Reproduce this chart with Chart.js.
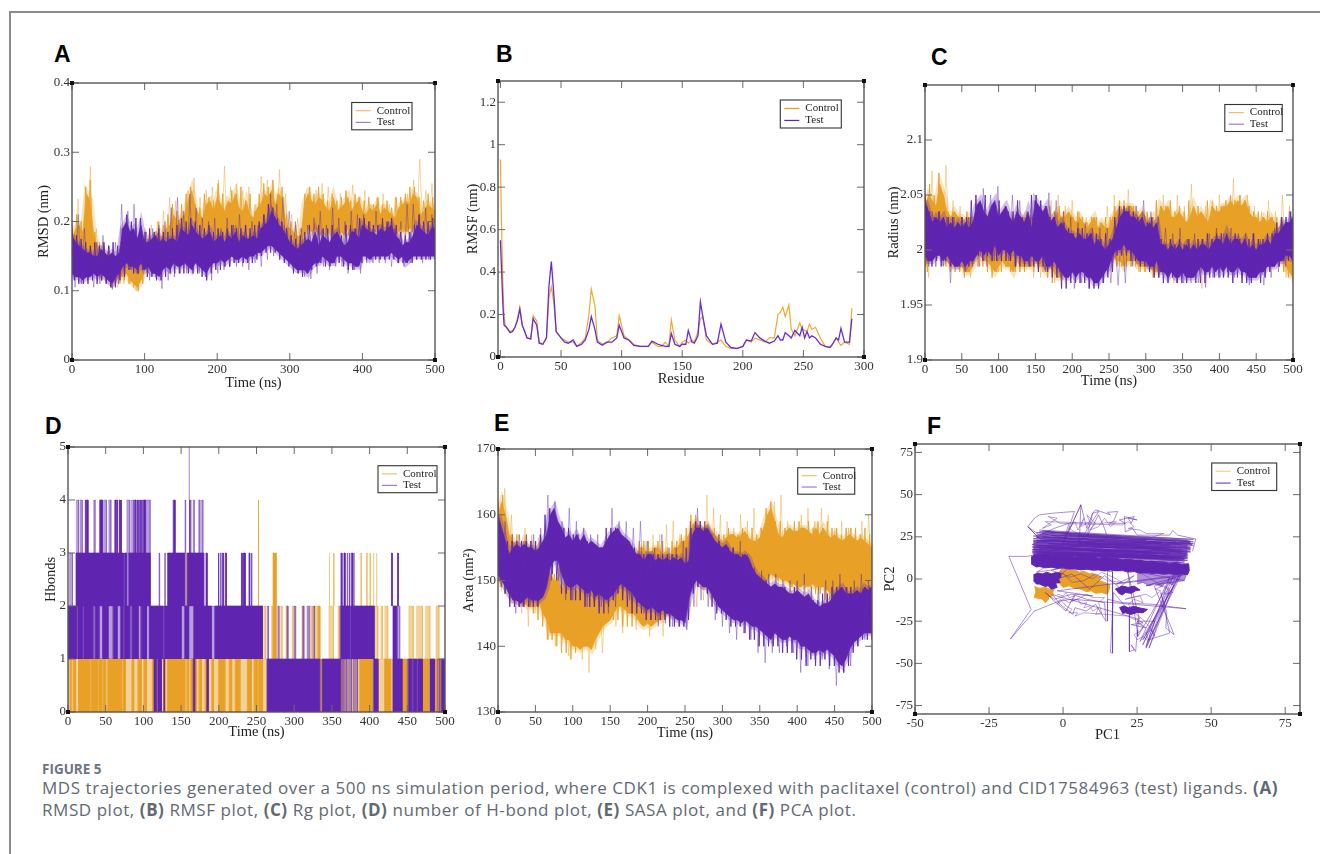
<!DOCTYPE html>
<html><head><meta charset="utf-8">
<script src="https://cdn.jsdelivr.net/npm/chart.js@4"></script>
<style>
html,body{margin:0;padding:0;background:#fff;width:1320px;height:854px;overflow:hidden}
#page{position:relative;width:1320px;height:854px}
canvas{position:absolute;filter:blur(.45px)}
.rule{position:absolute;background:#8b8b95}
.letter{position:absolute;font:bold 23px "Liberation Sans",sans-serif;color:#000;line-height:24px}
.cap{position:absolute;left:42px;white-space:nowrap;font-family:"Open Sans","Noto Sans",sans-serif;color:#5f6973}
.cap b{font-weight:700}
</style></head><body><div id="page">
<div class="rule" style="left:9px;top:11px;width:1311px;height:1.5px"></div>
<div class="rule" style="left:9px;top:11px;width:1.5px;height:843px"></div>
<div class="letter" style="left:54px;top:42px">A</div>
<div class="letter" style="left:496px;top:42px">B</div>
<div class="letter" style="left:931px;top:45px">C</div>
<div class="letter" style="left:45px;top:414px">D</div>
<div class="letter" style="left:494px;top:411px">E</div>
<div class="letter" style="left:927px;top:414px">F</div>
<div class="cap" style="top:760px;font-size:13.5px;font-weight:700;color:#6b7580">FIGURE 5</div>
<div class="cap" id="cap1" style="top:776px;font-size:17px">MDS trajectories generated over a 500 ns simulation period, where CDK1 is complexed with paclitaxel (control) and CID17584963 (test) ligands. <b>(A)</b></div>
<div class="cap" id="cap2" style="top:798px;font-size:17px">RMSD plot, <b>(B)</b> RMSF plot, <b>(C)</b> Rg plot, <b>(D)</b> number of H-bond plot, <b>(E)</b> SASA plot, and <b>(F)</b> PCA plot.</div>
</div>
<script>
const seriesNames=["Control","Test"];
const ticksA_x=[0,100,200,300,400,500],ticksA_y=[0,.1,.2,.3,.4];
const ticksB_x=[0,50,100,150,200,250,300],ticksB_y=[0,.2,.4,.6,.8,1,1.2];
const ticksC_x=[0,50,100,150,200,250,300,350,400,450,500],ticksC_y=[1.9,1.95,2,2.05,2.1];
const ticksD_x=ticksC_x,ticksD_y=[0,1,2,3,4,5];
const ticksE_x=ticksC_x,ticksE_y=[130,140,150,160,170];
const ticksF_x=[-50,-25,0,25,50,75],ticksF_y=[-75,-50,-25,0,25,50,75];
/* ---------- A: RMSD, band edges every 5 ns, traces alternate top/bottom ---------- */
const rmsdControlHi=[.175,.19,.195,.185,.24,.23,.18,.165,.16,.155,.15,.145,.14,.135,.14,.15,.155,.145,.15,.16,.165,.175,.17,.18,.185,.175,.19,.195,.21,.2,.205,.21,.23,.245,.22,.21,.205,.225,.23,.215,.235,.225,.215,.23,.225,.24,.22,.215,.23,.21,.205,.22,.225,.24,.235,.245,.225,.24,.23,.195,.19,.185,.18,.175,.225,.24,.23,.225,.235,.23,.22,.215,.235,.215,.22,.225,.235,.215,.225,.23,.215,.21,.22,.215,.225,.21,.22,.215,.21,.205,.22,.225,.23,.225,.24,.235,.21,.215,.225,.22,.215];
const rmsdControlLo=[.125,.13,.135,.135,.15,.16,.13,.125,.12,.125,.115,.11,.115,.12,.12,.125,.115,.11,.105,.115,.13,.135,.14,.14,.15,.15,.16,.16,.16,.165,.16,.165,.17,.165,.16,.165,.165,.16,.165,.17,.17,.165,.17,.165,.17,.165,.17,.165,.17,.165,.165,.17,.17,.175,.17,.175,.17,.17,.165,.16,.16,.155,.155,.15,.18,.19,.185,.19,.18,.185,.18,.185,.18,.175,.185,.18,.19,.18,.185,.18,.19,.185,.18,.185,.19,.18,.185,.185,.18,.18,.185,.19,.185,.19,.19,.195,.185,.19,.185,.185,.18];
const rmsdControlTrace=[.19,.12,.233,.11,.21,.13,.28,.125,.19,.12,.17,.115,.165,.105,.15,.105,.16,.11,.165,.11,.155,.1,.17,.115,.19,.125,.195,.13,.2,.13,.215,.135,.235,.14,.23,.15,.215,.145,.245,.15,.263,.16,.235,.15,.245,.16,.25,.165,.26,.165,.28,.17,.25,.17,.255,.165,.245,.165,.25,.155,.225,.16,.265,.16,.26,.165,.24,.17,.275,.17,.24,.165,.21,.16,.205,.155,.195,.15,.25,.18,.245,.185,.255,.18,.25,.175,.225,.175,.24,.18,.235,.175,.253,.18,.235,.175,.245,.18,.225,.185,.235,.18,.24,.18,.225,.18,.235,.175,.23,.175,.24,.18,.26,.185,.29,.185,.245,.18,.255,.175];
const rmsdControlJag=[.2,.12,.21,.125,.2,.13,.25,.14,.26,.15,.185,.125,.17,.115,.165,.12,.155,.105,.15,.11,.145,.11,.15,.115,.165,.11,.15,.105,.16,.1,.165,.11,.175,.125,.185,.13,.18,.135,.2,.145,.195,.15,.21,.15,.225,.155,.215,.155,.225,.155,.24,.16,.25,.16,.225,.155,.22,.16,.24,.16,.235,.165,.23,.165,.255,.165,.24,.165,.225,.17,.245,.165,.24,.165,.25,.165,.23,.165,.24,.165,.215,.16,.24,.165,.255,.17,.25,.17,.26,.17,.24,.165,.25,.165,.21,.155,.2,.155,.195,.15,.19,.15,.24,.18,.25,.185,.24,.185,.25,.18,.24,.18,.23,.18,.24,.175,.23,.18,.235,.18,.245,.18,.23,.18,.24,.175,.235,.18,.23,.18,.235,.18,.225,.185,.235,.185,.225,.18,.23,.18,.22,.18,.235,.185,.235,.185,.24,.185,.25,.185,.25,.19,.235,.185,.23,.18,.24,.18,.235,.18];
const rmsdTestHi=[.18,.17,.165,.16,.155,.155,.15,.15,.16,.155,.15,.155,.15,.155,.19,.2,.185,.19,.175,.195,.17,.17,.175,.18,.17,.175,.17,.175,.175,.17,.19,.185,.18,.195,.185,.18,.175,.18,.185,.17,.175,.18,.17,.18,.175,.185,.17,.18,.175,.175,.18,.175,.19,.195,.2,.215,.205,.195,.19,.18,.17,.165,.16,.165,.17,.175,.17,.185,.165,.18,.175,.17,.18,.185,.175,.165,.17,.185,.185,.175,.195,.19,.185,.185,.18,.19,.185,.19,.195,.18,.175,.165,.17,.17,.18,.195,.19,.185,.18,.19,.19];
const rmsdTestLo=[.125,.12,.12,.115,.12,.12,.125,.12,.125,.12,.115,.11,.12,.125,.135,.14,.135,.135,.13,.14,.13,.135,.125,.125,.12,.13,.135,.13,.14,.135,.135,.14,.135,.13,.14,.135,.13,.125,.135,.14,.14,.145,.14,.145,.15,.145,.145,.15,.145,.15,.15,.155,.155,.16,.165,.165,.16,.155,.15,.145,.14,.135,.13,.13,.13,.125,.135,.14,.14,.15,.145,.14,.14,.15,.15,.145,.14,.14,.135,.135,.15,.15,.145,.15,.15,.15,.15,.15,.155,.15,.145,.15,.14,.145,.15,.15,.15,.15,.15,.15,.15];
const rmsdTestTrace=[.195,.105,.21,.11,.19,.115,.165,.105,.17,.11,.18,.11,.165,.102,.17,.11,.225,.125,.215,.13,.225,.125,.19,.13,.185,.115,.19,.12,.195,.103,.2,.115,.22,.12,.235,.125,.215,.125,.24,.13,.22,.125,.205,.12,.2,.115,.205,.125,.19,.13,.205,.135,.195,.135,.21,.135,.195,.13,.2,.14,.195,.135,.21,.145,.24,.15,.225,.155,.235,.145,.215,.135,.2,.125,.19,.12,.195,.117,.205,.125,.215,.135,.195,.13,.22,.135,.205,.135,.2,.125,.215,.13,.21,.125,.21,.14,.2,.14,.215,.14,.195,.14,.2,.135,.19,.14,.2,.135,.225,.14,.225,.145,.21,.14,.22,.145,.21,.15];
const rmsdTestJag=[.19,.115,.18,.11,.175,.11,.17,.11,.165,.115,.17,.11,.165,.115,.17,.11,.165,.105,.17,.105,.165,.115,.19,.12,.21,.13,.2,.125,.205,.125,.205,.13,.185,.12,.19,.12,.185,.115,.19,.115,.185,.12,.185,.125,.19,.125,.195,.125,.205,.125,.2,.125,.205,.125,.2,.125,.195,.12,.19,.115,.195,.125,.185,.13,.19,.13,.185,.135,.19,.135,.195,.14,.19,.14,.19,.14,.195,.14,.19,.14,.195,.145,.2,.15,.21,.155,.225,.155,.22,.155,.205,.145,.2,.14,.19,.135,.18,.125,.175,.125,.18,.12,.185,.125,.195,.13,.18,.135,.195,.14,.19,.135,.19,.135,.195,.14,.185,.14,.18,.135,.195,.13,.195,.13,.19,.14,.205,.14,.205,.145,.2,.145,.195,.145,.195,.145,.205,.145,.2,.145,.205,.145,.195,.14,.185,.14,.18,.14,.185,.14,.195,.145,.21,.145,.2,.145,.2,.145,.205,.145];
/* ---------- B: RMSF per residue ---------- */
const residues=[0,1,2,3,4,5,8,10,12,14,16,18,20,22,25,27,30,32,35,38,40,42,44,46,50,53,56,60,63,67,70,73,75,78,80,84,88,92,96,98,102,106,110,115,120,122,125,130,133,136,139,141,144,148,150,153,155,158,160,163,165,167,170,175,179,182,186,190,195,200,203,207,210,214,218,222,226,229,231,233,235,238,240,243,247,249,251,253,255,257,260,264,268,272,274,277,279,281,284,288,290];
const rmsfControl=[.93,.6,.35,.19,.15,.14,.12,.125,.14,.18,.235,.15,.12,.09,.085,.195,.17,.07,.06,.09,.28,.33,.26,.12,.09,.08,.07,.07,.05,.07,.09,.2,.32,.24,.08,.06,.07,.09,.1,.195,.1,.08,.06,.05,.05,.05,.07,.05,.05,.07,.05,.175,.08,.05,.07,.08,.065,.08,.07,.12,.18,.19,.08,.06,.07,.08,.05,.04,.04,.05,.08,.07,.09,.08,.07,.09,.09,.2,.21,.235,.19,.245,.13,.1,.16,.13,.125,.12,.155,.13,.14,.09,.05,.045,.06,.09,.07,.055,.07,.06,.23];
const rmsfTest=[.55,.4,.25,.15,.145,.14,.115,.12,.14,.17,.225,.15,.12,.09,.085,.18,.15,.065,.06,.09,.33,.45,.3,.12,.09,.07,.065,.08,.05,.06,.08,.13,.19,.13,.07,.055,.07,.07,.09,.15,.09,.08,.055,.05,.05,.05,.075,.06,.055,.05,.05,.11,.06,.05,.06,.06,.125,.07,.065,.1,.26,.19,.1,.06,.065,.155,.07,.045,.04,.05,.08,.075,.115,.09,.075,.065,.075,.1,.08,.08,.115,.1,.09,.125,.1,.14,.09,.12,.09,.1,.09,.06,.05,.045,.06,.09,.08,.135,.07,.07,.18];
/* ---------- C: Radius of gyration ---------- */
const rgControlHi=[2.04,2.05,2.045,2.04,2.06,2.05,2.035,2.03,2.035,2.03,2.03,2.025,2.03,2.025,2.03,2.03,2.03,2.025,2.03,2.025,2.025,2.03,2.025,2.03,2.025,2.03,2.025,2.03,2.025,2.03,2.03,2.025,2.03,2.03,2.025,2.03,2.035,2.03,2.03,2.035,2.03,2.025,2.03,2.025,2.02,2.025,2.03,2.02,2.025,2.02,2.02,2.03,2.035,2.04,2.035,2.04,2.04,2.035,2.03,2.035,2.03,2.025,2.03,2.02,2.04,2.035,2.04,2.03,2.03,2.035,2.03,2.025,2.03,2.04,2.03,2.035,2.03,2.025,2.04,2.035,2.035,2.04,2.04,2.045,2.04,2.045,2.04,2.045,2.035,2.03,2.03,2.025,2.03,2.025,2.03,2.025,2.02,2.025,2.02,2.02,2.015];
const rgControlLo=[1.985,1.99,1.995,1.995,2,1.995,1.99,1.985,1.99,1.985,1.985,1.98,1.98,1.985,1.995,1.995,1.99,1.99,1.985,1.98,1.985,1.99,1.985,1.985,1.98,1.99,1.985,1.985,1.985,1.985,1.99,1.985,1.985,1.98,1.985,1.98,1.975,1.975,1.985,1.985,1.985,1.99,1.985,1.99,1.985,1.99,1.985,1.99,1.985,1.99,1.995,1.995,1.99,1.99,1.985,1.99,1.99,1.99,1.985,1.985,1.985,1.985,1.98,1.98,1.985,1.99,1.985,1.99,1.985,1.99,1.985,1.99,1.985,1.985,1.99,1.985,1.99,1.99,1.985,1.99,1.995,1.99,1.995,2,1.995,1.99,1.995,1.99,1.99,1.985,1.985,1.99,1.985,1.99,1.99,1.995,1.99,1.99,1.985,1.98,1.975];
const rgControlTrace=[2.05,1.975,2.072,1.985,2.06,1.99,2.077,1.99,2.045,1.985,2.04,1.98,2.035,1.975,2.03,1.985,2.03,1.995,2.035,1.98,2.02,1.98,2.03,1.985,2.025,1.98,2.035,1.98,2.03,1.985,2.025,1.975,2.03,1.975,2.03,1.975,2.045,1.97,2.05,1.975,2.04,1.98,2.045,1.985,2.035,1.98,2.03,1.985,2.03,1.985,2.025,1.99,2.04,1.98,2.05,1.985,2.04,1.98,2.055,1.985,2.04,1.98,2.035,1.98,2.03,1.975,2.045,1.975,2.05,1.975,2.04,1.97,2.05,1.975,2.04,1.97,2.06,1.975,2.035,1.965,2.04,1.98,2.045,1.98,2.05,1.985,2.04,1.985,2.065,1.985,2.05,1.98,2.05,1.98,2.04,1.98,2.035,1.975,2.045,1.985,2.035,1.985,2.05,1.975,2.04,1.97];
const rgControlJag=[2.05,1.98,2.06,1.99,2.05,1.99,2.07,1.99,2.05,1.985,2.035,1.98,2.035,1.98,2.03,1.98,2.03,1.975,2.035,1.98,2.03,1.99,2.03,1.985,2.03,1.985,2.025,1.98,2.035,1.975,2.03,1.98,2.03,1.98,2.035,1.985,2.03,1.98,2.03,1.98,2.035,1.98,2.03,1.98,2.035,1.985,2.03,1.98,2.035,1.98,2.035,1.98,2.03,1.975,2.04,1.97,2.035,1.975,2.04,1.98,2.035,1.98,2.03,1.98,2.03,1.98,2.035,1.985,2.03,1.985,2.025,1.985,2.03,1.985,2.03,1.985,2.025,1.985,2.03,1.985,2.03,1.99,2.04,1.985,2.045,1.985,2.045,1.985,2.04,1.985,2.04,1.985,2.035,1.98,2.035,1.98,2.035,1.98,2.03,1.975,2.045,1.975,2.04,1.98,2.04,1.985,2.045,1.985,2.035,1.985,2.04,1.985,2.035,1.985,2.045,1.985,2.035,1.985,2.04,1.985,2.03,1.99,2.045,1.99,2.04,1.99,2.04,1.99,2.04,1.99,2.045,1.995,2.05,1.99,2.045,1.99,2.05,1.99,2.045,1.99,2.04,1.985,2.035,1.985,2.035,1.985,2.03,1.99,2.035,1.985,2.03,1.985,2.03,1.985,2.03,1.98,2.025,1.975,2.02,1.97];
const rgTestHi=[2.045,2.035,2.025,2.03,2.025,2.03,2.02,2.025,2.02,2.025,2.02,2.025,2.02,2.025,2.04,2.045,2.035,2.03,2.04,2.045,2.03,2.035,2.04,2.03,2.025,2.035,2.03,2.025,2.035,2.02,2.045,2.04,2.035,2.04,2.025,2.03,2.02,2.025,2.02,2.015,2.015,2.01,2.015,2.01,2.01,2.015,2.005,2.01,2.005,2,2.005,2.01,2.02,2.03,2.035,2.035,2.03,2.03,2.025,2.03,2.02,2.025,2.02,2.025,2.005,2.005,2,2.005,2,2.005,2,2.005,2,2.005,2,2.005,2.005,2,2.005,2.01,2.01,2.005,2.015,2.005,2.01,2.01,2.005,2.01,2,2.005,2,2.005,2.005,2.01,2.005,2.015,2.015,2.02,2.025,2.025,2.03];
const rgTestLo=[1.995,1.99,1.99,1.995,1.995,1.99,1.995,1.99,1.985,1.985,1.99,1.985,1.99,1.99,1.995,2,1.995,2,1.995,2.005,1.995,2,2,1.995,2,1.995,1.995,1.99,1.99,1.995,1.99,1.99,1.995,1.985,1.985,1.99,1.985,1.98,1.975,1.975,1.98,1.975,1.98,1.98,1.975,1.975,1.97,1.97,1.975,1.98,1.985,1.995,2,2,2.005,2,2,1.995,1.99,1.99,1.99,1.985,1.985,1.99,1.98,1.98,1.975,1.98,1.975,1.975,1.98,1.975,1.975,1.975,1.98,1.985,1.98,1.98,1.985,1.98,1.985,1.98,1.985,1.98,1.98,1.985,1.98,1.98,1.975,1.975,1.975,1.98,1.98,1.985,1.985,1.985,1.99,1.99,1.995,1.995,1.99];
const rgTestTrace=[2.05,1.985,2.035,1.985,2.035,1.985,2.03,1.97,2.03,1.985,2.03,1.98,2.03,1.985,2.035,1.985,2.056,1.985,2.05,1.99,2.058,1.995,2.04,1.99,2.05,1.985,2.045,1.99,2.03,1.985,2.045,1.985,2.035,1.98,2.052,1.985,2.045,1.98,2.035,1.975,2.03,1.965,2.025,1.97,2.025,1.965,2.02,1.97,2.02,1.97,2.02,1.97,2.015,1.968,2.02,1.97,2.04,1.985,2.04,1.99,2.045,1.985,2.035,1.985,2.03,1.98,2.02,1.975,2.015,1.97,2.02,1.97,2.01,1.97,2.015,1.97,2.01,1.966,2.015,1.975,2.02,1.975,2.015,1.98,2.02,1.975,2.015,1.975,2.015,1.968,2.015,1.975,2.01,1.968,2.015,1.975,2.02,1.98,2.03,1.985,2.035,1.985];
const rgTestJag=[2.05,1.99,2.035,1.985,2.03,1.99,2.035,1.985,2.03,1.99,2.03,1.985,2.03,1.985,2.025,1.985,2.03,1.985,2.03,1.985,2.045,1.99,2.05,1.995,2.04,1.99,2.05,1.995,2.035,1.99,2.04,1.99,2.045,1.99,2.035,1.99,2.035,1.99,2.035,1.985,2.045,1.985,2.03,1.985,2.025,1.985,2.05,1.985,2.05,1.98,2.045,1.985,2.04,1.98,2.03,1.975,2.03,1.975,2.02,1.965,2.025,1.965,2.02,1.97,2.015,1.97,2.02,1.97,2.02,1.97,2.015,1.965,2.015,1.965,2.015,1.965,2.01,1.97,2.015,1.975,2.01,1.98,2.03,1.995,2.04,1.995,2.04,1.995,2.035,1.99,2.035,1.99,2.03,1.985,2.03,1.985,2.025,1.98,2.03,1.975,2.01,1.975,2.01,1.97,2.005,1.97,2.01,1.975,2.005,1.97,2.01,1.97,2.005,1.97,2.01,1.975,2.005,1.97,2.01,1.97,2.01,1.97,2.015,1.975,2.01,1.975,2.015,1.975,2.015,1.975,2.01,1.975,2.01,1.97,2.015,1.975,2.01,1.97,2.01,1.97,2.01,1.97,2.015,1.975,2.01,1.97,2.01,1.975,2.015,1.98,2.015,1.985,2.025,1.985,2.03,1.99,2.03,1.99,2.035,1.99];
/* ---------- D: H-bonds, time spans (ns) per occupied level ---------- */
const hbControl01=[[3,4],[7,10],[14,29],[31,39],[40,45],[47,50],[53,71],[73,76],[85,87],[93,97],[101,104],[112,116],[118,122],[127,129],[132,155],[158,160],[163,170],[174,177],[182,185],[191,193],[200,208],[214,217],[222,228],[238,243],[247,251],[253,258],[335,337],[361,363],[387,404],[408,411],[420,428],[443,450],[470,478],[486,490],[493,496]];
const hbControl01Pale=[[0,3],[4,7],[10,14],[29,31],[45,47],[50,53],[71,73],[76,85],[87,93],[97,101],[104,112],[116,118],[122,127],[129,132],[155,158],[160,163],[170,174],[177,182],[185,191],[193,200],[208,214],[217,222],[228,238],[243,247],[251,253],[258,264],[364,387],[411,420],[428,431],[450,470],[478,486],[490,493]];
const hbControl12=[[272,276],[332,334],[252.3,252.8]];
const hbControl12Pale=[[260,262],[270,271],[282,284],[289,291],[297,300],[310,312],[321,324],[327,331],[346,352],[358,360],[405,411],[415,417],[420,424],[452,458],[462,470],[474,480],[488,492]];
const hbControl23=[[272,276],[252.3,252.8],[157.5,158]];
const hbControl23Pale=[[346.3,347],[352,352.8],[388.3,389],[396,396.7],[400.3,401],[405,405.6],[409,409.6]];
const hbControl34=[[252.3,252.8]];
const hbTest01=[[114,117],[119,124],[127,128],[166,168],[184,186],[264,334],[337,361],[405,411],[431,443],[452,456],[458,462],[464,470],[480,486],[495,500]];
const hbTest01Pale=[[361,365],[366,370],[372,376],[378,384],[450,452],[456,458],[462,464],[490,493]];
const hbTest12=[[0,11],[13,19],[21,33],[36,41],[46,53],[60,65],[70,73],[75,82],[85,93],[97,104],[108,126],[128,150],[155,160],[167,190],[195,258],[361,374],[375,406],[431,436]];
const hbTest12Pale=[[11,13],[19,21],[33,36],[41,46],[53,60],[65,70],[73,75],[82,85],[93,97],[104,108],[126,128],[150,155],[160,167],[190,195],[264,266],[278,280],[290,292],[300,302],[311,313],[317,320],[325,327],[436,440]];
const hbTest23=[[10.6,74],[75,78],[80,109],[132,155],[158,180],[183,184.5],[199,200],[205,206],[208.5,210],[230,231],[233,235],[240,241],[243,244],[362,363],[366,367.5],[373,374],[376,377.5],[429,430],[437,438]];
const hbTest23Pale=[[2,6],[120.5,121.5],[128,129],[201.5,203],[232,233],[363.5,364.5],[370,371],[378.5,379.5]];
const hbTest34=[[23,24],[25,26.5],[42,43],[43.5,46],[62,63],[64,65.5],[68,69],[70,70.6],[88,90],[92,93],[96,97],[100,102.5],[140.5,142],[161,161.6]];
const hbTest34Pale=[[11,14],[16,19],[34,36],[48,51],[54,57],[78,82],[84,87],[94,95],[98,99.5],[103,109],[139,140],[155,156],[161.5,163],[166,167.5],[173,175],[177,179]];
const hbTest45=[[160.5,161]];
/* ---------- E: SASA ---------- */
const sasaControlHi=[160,162,160,157,156,155.5,154.5,156,155,155.5,154,155,153,152,151,150,150,149,149,149.5,149,148.5,149,149.5,148.5,149,149.5,149,150,150.5,152,153,152.5,152,151.5,152,152.5,154,155,155,154,154.5,155,155,154,154.5,154,155,155,156,156,157,158.5,159,158,158,158.5,157.5,157,156.5,156,156.5,157,157,156.5,157,157.5,156.5,156,156,156.5,158,160,161,159,157,156.5,157.5,158,157.5,157.5,158,158,157.5,157,158,157,158,157,156.5,157,156.5,156,156.5,157,156.5,156,156.5,156,155.5,155];
const sasaControlLo=[150,150,149,148,147,147,146.5,146.5,146,146,146,146.5,145,144,142,142,142,142,141,141,140,140,139.5,140,140,139.5,141,142,143,143.5,144,145,146,146,145.5,145,145,144.5,143.5,143,143.5,143,143.5,144,144,145,144.5,145,144.5,145,146,148,149.5,150,149.5,149,149,148.5,148,147.5,147,147.5,147,147.5,147,147.5,147.5,148,147.5,148,148.5,149,150,151,150.5,150.5,150,150,149.5,149.5,149,149,149.5,149,149.5,149,149,149,148.5,148,147,147,146.5,146.5,147,147.5,148,148,148.5,148.5,148];
const sasaControlTrace=[163,148.5,164,149,160,148,157,145,158,143,157,145,156.5,147,155,141,153,140,151,141,152.5,138.5,150.5,140,151,138,150,136,152,139.5,150,139,150,144,151.5,143,153,142,152,146,151,142.5,155,143,156,141.5,157,145,157,141.5,158.5,145,159,146,157,144.5,155,146,156,146,158,147,163,147,161,145.5,160,147,159,147,158,146,160,146,159,145,161,146,158,147,157,141,162,146,163,148,159,146,158,148,160,148,161,147,159,146,161,147,160,145,158,145,159,144,158,146,157,147,159,148,160,148];
const sasaControlJag=[162,149,163,148,158,147,157,146,157,146,156,146,157,146,156,145,155,144,154,143,152,141,151,141,151,140,152,139,150,139,151,138,150,139,150,140,152,141,151,143,151,145,153,145,153,144,154,145,154,144,155,144,156,143,156,143,156,143,155,144,156,144,156,144,156,145,155,145,156,145,156,146,155,145,156,145,156,145,157,146,158,148,160,149,160,149,159,149,159,148,158,148,158,148,157,147,157,147,158,147,157,147,157,147,158,147,157,147,158,148,157,148,158,150,161,151,162,151,159,150,159,150,158,150,158,149,159,149,159,149,158,149,159,149,158,148,159,148,158,147,159,147,158,147,158,147,157,147,158,148,158,148,158,147,157,147,158,147,157,147];
const sasaTestHi=[160,158,156,154,155,155.5,155,155.5,155,155,154.5,155,156,157,160,161,159,158,156.5,157,156,157,156,157,155.5,156,155.5,155,155,156,157,157.5,158,157,156.5,156,155,154,154,153,154,154,153,153.5,153,153.5,153,153.5,153,153.5,152.5,153,157,158,158,157.5,158,157,156,155.5,155,155.5,154.5,154,154,153.5,154,153.5,152,151,150.5,150,149.5,149,149.5,149,149,148.5,148,148,148.5,148,147.5,148,147,146.5,146,146.5,146.5,147,148,148.5,149,148,148,148,148.5,148,149,148.5,149];
const sasaTestLo=[151,150,149,148,147,147,146.5,147,147.5,147,147,147,147.5,149,152,153,153,151,149.5,149,149,149.5,149,148.5,148,148.5,147.5,148,147.5,147,147.5,148,149,149.5,149,148.5,148,147,146.5,146,145.5,146,145.5,145,145.5,145,145,144.5,144,144,143.5,147,149,150,149.5,149,149,148,147,146,145.5,145,144.5,144,144,143.5,144,143.5,143,143,142.5,142,141.5,141,142,141.5,141,141,141.5,141,141,140,140,139.5,139,139,139.5,139,139.5,139,138.5,137.5,137,138,139.5,140.5,141,141.5,142,142,142];
const sasaTestTrace=[162,149,159,148,157,145,157,146,157,146,157,146,158,148,163,150,162,150,159,147,161,147,159,147,158,146,157,146,157,146,156,145,161,146,159,148,159,147,158,146,159,145,156,144,155,143,157,143.5,155,143,155,143,156,142.5,159,146,161,147,159,146,157,144,157,143,155,142,155,141,156,142,154,141,152,139,151.5,137.5,151,139,151,139,150,140,150,139,150,136,151,137,149,138,149,138,150,136.5,150,134,151,136,149,137,150,140,151,141,150,141];
const sasaTestJag=[160,150,157,148,156,146,156,146,156,146,156,146,156,146,156,146,156,146,157,148,160,150,161,151,159,150,158,148,158,148,158,147,157,147,157,147,156,146,156,146,155,146,154,145,155,145,158,146,158,147,158,148,157,147,156,146,155,145,155,145,154,145,154,144,154,144,154,144,154,144,154,144,154,143,154,143,154,143,153,143,155,144,158,148,159,149,159,149,158,148,157,146,156,145,156,145,155,144,155,143,155,143,154,143,154,142,152,141,151,141,150,140,150,140,150,140,149,140,149,140,149,139,149,139,148,139,149,138,148,138,147,137,147,138,147,137,147,137,148,138,148,137,149,137,149,136,149,136,149,137,149,139,148,140,148,141,149,141,149,141];
/* ---------- F: PCA projections ---------- */
const pcaControlBlobA=[[-2,3],[-1,5],[0,6.5],[2,5],[4,5.5],[5.5,4],[7,4.5],[9,3],[10,3.5],[12,1.5],[13,1.5],[12,-1],[14,-2],[15.5,-3],[15.5,-6],[15,-9],[13,-8],[11,-8.5],[9.5,-7],[8,-7.5],[6,-6],[4,-5.5],[2,-4],[0,-5],[-1,-3],[-2,-2]];
const pcaControlBlobB=[[-9.7,-4.4],[-8,-5.5],[-6,-5],[-4.5,-6],[-3,-6],[-3.5,-8],[-3.5,-10],[-5,-10.5],[-5,-12],[-6,-14],[-7,-12],[-8,-11.5],[-9.7,-11],[-9.3,-8]];
const pcaTestBand=[[-10.8,13],[-9.5,14.4],[-8,13.8],[-6,14.6],[-4,13.6],[-2,14.3],[0,13.5],[2,14],[4,13],[6,13.6],[8,13],[10,13.2],[12,12.3],[14,12.8],[16,12.4],[18,12.3],[20,11.3],[22,11.7],[24,11.2],[26,11.1],[28,10.2],[30,10.6],[32,10],[34,10],[36,9.2],[38,9.6],[40,8.8],[42.4,9],[42.6,5],[42,2.5],[40,3],[38,2.6],[36,3.2],[34,2.8],[32,3.5],[30,3.3],[28,3.9],[26,3.4],[24,4.4],[22,4.1],[20,5],[18,4.8],[16,5.3],[14,4.7],[12,5.4],[10,5.2],[8,5.8],[6,5.4],[4,6],[2,5.8],[0,6.6],[-2,6.3],[-4,7],[-6,6.6],[-8,7.4],[-9,7.1],[-10.8,9]];
const pcaTestBlobA=[[-10,2.5],[-8.5,3.5],[-7,3],[-5.5,4],[-4,3],[-2.5,3.8],[-1,3.5],[-.8,1],[-1.5,0],[-1,-2],[-2.5,-2.5],[-2,-5],[-4,-6],[-5,-4],[-6,-4.5],[-8,-3],[-9,-3],[-10,-1]];
const pcaTestBlobB=[[17.6,-6],[19,-5],[20,-4.2],[22,-5],[24,-4.2],[26,-6.5],[24.5,-7],[23,-8.5],[21,-8],[20,-9.5],[18.5,-8]];
const pcaTestBlobC=[[19,-17],[20.5,-16],[22,-17],[24,-16.2],[26,-17.2],[28.5,-18],[27,-20],[25,-19.8],[23,-21],[21,-20],[20,-20.5]];
const pcaTestBlobD=[[25,3],[27,4],[29,3],[31,3.8],[33,3],[35,3.6],[37,2.8],[39,2.5],[41.5,2],[41,-.5],[38,-1],[37,-3.5],[35,-2],[33,-4.5],[31,-2.5],[29,-4],[27,-2],[25,-3]];
const pcaTestStreaks=[[-8,29],[44,23.5],[-8,28],[43,22.5],[-9,27.5],[44,22],[-9,26],[43,21],[-10,25.5],[43.5,20.5],[-9,25],[42,20],[-10,24],[43,19],[-10,23],[42,18.5],[-9,22.5],[43,18],[-10,22],[42,17],[-10,21],[43,16.5],[-10.5,20.5],[42,16],[-10,19.5],[41.5,15],[-10.5,19],[42,14.5],[-10,18],[41.5,14],[-10.5,17.5],[42,13],[-10,17],[41,12.5],[-10.5,16.5],[42,12],[-10,16],[41,11.5],[-10.5,15.5],[42,11],[-10,15],[41,10.5],[-7,27],[20,24.5],[-4,26],[28,23],[2,26],[36,20],[-3,22.5],[35,18.5],[5,21],[40,16],[0,18],[38,13],[8,17],[42,15],[6,24],[-8,23],[33,21],[10,20],[-6,19],[30,16],[12,15],[-8,16.5],[25,14],[-6,14.5],[20,13],[42,12.5],[15,15],[-10,14.5],[32,12],[5,14.5],[40,11],[22,18],[-5,21],[38,17],[18,22],[-7,25],[43,21.5],[-9,24.5],[44,20],[-10,22.5],[42,19.5],[-9,21.5],[43,17.5],[-10,20],[43,18.5],[-10,19],[41,16.5],[-10,18.5],[42,15.5],[-9,17.5],[41,13.5],[-10,16],[42,13.5],[-9,15],[41,12],[-10,17.5],[43,16],[-8,24],[44,21],[-9,23],[40,20.5],[-7,28.5],[42,23],[-6,28],[38,22.5],[-8,26.5],[43,22],[-9,20],[40,17.5],[-10,21.5],[38,19],[-8,18],[36,15],[-9,16],[34,13],[-7,15.5],[37,12],[-9,14.5],[39,10.5],[-8,20],[42,14],[-9,19],[40,13],[-10,14],[41,9.5],[-9,13.5],[40,9.8]];
const pcaTestPath=[[43.7,16.4],[44.8,23.7],[38.7,26],[37,28.7],[36,26],[25,26],[23.5,30],[21,28],[20.7,37],[25,35],[22,36],[23,33],[24,37],[19,35],[21,33],[15.6,33],[17,34],[18.4,40],[15,39.5],[16,38],[11,41],[10,39],[12,40],[5.5,22],[6,44],[5.5,42],[1,25],[3.8,40],[-3.5,39],[-8,38],[-9.7,36],[-11.9,31],[-8,24],[-11.9,31],[-8,26],[-3,30],[2,33],[-.7,18],[6,44],[8,30],[10,39],[8,25],[12,38],[14,30],[15,24],[-12,13.4],[-18.3,13.4],[-10.8,-18],[-17.8,-35.6],[-9.7,-19],[-1.2,-13],[3,-12],[10,-13],[41.5,-17.6],[30.2,-15],[20,-14],[15,-12],[15,-25],[15,4.5],[16.7,4.5],[16.7,-43.9],[16,-43.5],[17,-8],[22.4,-19],[22.4,-43],[24,-42],[23,-39],[24.5,-43],[25.5,-22],[21.8,4.5],[25,-30],[25.2,-34],[37.5,2.6],[26.9,-39],[39.2,2.6],[28,-41],[35.8,-7.3],[29,-41],[37.5,-3.4],[27,-36],[38,1],[30.8,-4.3],[37.5,-33],[34.7,-29],[35,-20],[33,-8],[36,-32],[29,-36],[40,3],[26,-37],[36,1],[28,-40],[31,-25],[25,-25],[28,-29],[23,-27],[27,-26],[24,-23],[-3.5,-9.3],[-1,-15],[3.3,-21],[4,-17],[7.8,-19],[11,-15],[14.5,-25],[14,-14],[8,-12],[3,-9],[-3,-12],[-6,-8],[-3,-13],[1,-19],[4,-9],[10,-10],[-2,-7],[25,-1],[42,3],[26,4],[41,-1],[28,-4],[40,2],[18,-3],[24,2],[19,-5],[14,2],[9,-6],[3,3],[-2,0],[2,7],[-9,4],[-4,9]];
const pcaTestScribble=[[-2,-9],[0,-10],[1,-8],[2,-11],[4,-10],[3,-13],[5,-12],[6,-15],[8,-14],[7,-17],[9,-16],[10,-19],[12,-17],[11,-21],[13,-20],[12,-14],[14,-11],[10,-11],[8,-9],[6,-11],[2,-14],[0,-12],[-2,-15],[-1,-12],[1,-16],[3,-18],[2,-20],[5,-20],[4,-22],[7,-20],[22,-22],[24,-24],[26,-23],[25,-26],[27,-28],[26,-31],[24,-33],[25,-36],[27,-34],[29,-37],[28,-32],[30,-30],[31,-34],[29,-28],[27,-24],[24,-20],[22,-15],[24,-12],[27,-14],[26,-10],[23,-11],[21,-12],[28,-9],[30,-11],[33,-7],[31,-6],[34,-4],[36,-6],[34,-9],[37,-8],[2,30],[4,34],[5,29],[7,36],[6,31],[9,34],[8,38],[11,33],[9,29],[12,31],[14,36],[16,31],[18,34],[13,33],[-6,34],[-4,32],[-7,30],[-2,36],[-5,37],[-1,33],[20,32],[22,34],[24,31],[22,30],[26,29],[28,27],[31,27],[34,27],[-4,5],[0,3],[2,1],[6,3],[10,0],[13,4],[17,1],[20,-2],[15,-1],[11,3],[7,-1],[3,-2],[-1,5]];
/* ---------- shared styling ---------- */
const ORANGE="#e8a126",PURPLE="#5f25b0",ORANGE_P="rgba(232,161,38,.48)",PURPLE_P="rgba(95,37,176,.45)";
const ORANGE_H="rgba(232,161,38,.3)",PURPLE_H="rgba(95,37,176,.28)";
const SERIF='"Liberation Serif",serif';
const along=(vals,xMax)=>vals.map((y,i)=>({x:i*xMax/(vals.length-1),y}));
const plain=(o)=>Object.assign({pointRadius:0,tension:0,fill:false,spanGaps:false},o);
function noiseSets(name,hi,lo,trace,jag,solid,pale,halo,xMax,o){
  return [
    plain({label:name,data:along(trace,xMax),borderColor:pale,borderWidth:.9,order:o}),
    plain({label:name,data:along(hi,xMax),borderColor:halo,borderWidth:6,order:o-1}),
    plain({label:name,data:along(lo,xMax),borderColor:halo,borderWidth:6,order:o-2}),
    plain({label:name,data:along(hi,xMax),borderColor:solid,borderWidth:.6,backgroundColor:solid,fill:'+1',order:o-3}),
    plain({label:name,data:along(lo,xMax),borderColor:solid,borderWidth:.6,order:o-4}),
    plain({label:name,data:along(jag,xMax),borderColor:solid,borderWidth:.9,order:o-5})
  ];
}
function spanPoints(spans,lo,hi){
  const pts=[];
  for(const [s,e] of spans){pts.push({x:s,y:lo},{x:s,y:hi},{x:e,y:hi},{x:e,y:lo},{x:e,y:NaN});}
  return pts;
}
function spanSet(name,spans,lo,hi,color,order){
  return plain({label:name,data:spanPoints(spans,lo,hi),borderColor:color,backgroundColor:color,borderWidth:.7,fill:{value:lo},order});
}
const shapeSet=(name,pts,color,order)=>plain({label:name,data:pts.map(p=>({x:p[0],y:p[1]})),borderColor:color,backgroundColor:color,borderWidth:1,fill:'shape',order});
const pathSet=(name,pts,color,w,order)=>plain({label:name,data:pts.map(p=>({x:p[0],y:p[1]})),borderColor:color,borderWidth:w,order});
const trim=v=>String(+(+v).toFixed(2));
const xmFrame={id:'xmFrame',
  afterDraw(chart,args,o){
    const c=chart.ctx,a=chart.chartArea,sx=chart.scales.x,sy=chart.scales.y;
    c.save();
    c.strokeStyle="#6a6a6a";c.lineWidth=1;c.beginPath();
    for(const t of sx.ticks){const p=sx.getPixelForValue(t.value);c.moveTo(p,a.bottom);c.lineTo(p,a.bottom-7);c.moveTo(p,a.top);c.lineTo(p,a.top+7);}
    for(const t of sy.ticks){const p=sy.getPixelForValue(t.value);c.moveTo(a.left,p);c.lineTo(a.left+7,p);c.moveTo(a.right,p);c.lineTo(a.right-7,p);}
    c.stroke();
    c.strokeStyle="#555";c.lineWidth=1.4;c.strokeRect(a.left,a.top,a.right-a.left,a.bottom-a.top);
    c.fillStyle="#111";
    for(const [x,y] of [[a.left,a.top],[a.right,a.top],[a.left,a.bottom],[a.right,a.bottom]])c.fillRect(x-2,y-2,4,4);
    const L=o.box;
    c.fillStyle="#fff";c.fillRect(L[0],L[1],L[2],L[3]);
    c.strokeStyle="#333";c.lineWidth=1.1;c.strokeRect(L[0],L[1],L[2],L[3]);
    c.font='11px '+SERIF;c.textBaseline='middle';c.textAlign='left';
    seriesNames.forEach((n,i)=>{
      const y=L[1]+L[3]*(i===0?.3:.73);
      c.strokeStyle=o.swatches[i];c.lineWidth=1.2;c.beginPath();c.moveTo(L[0]+4,y);c.lineTo(L[0]+19,y);c.stroke();
      c.fillStyle="#222";c.fillText(n,L[0]+25,y);
    });
    c.restore();
  }};
function panel(id,P){
  const padL=46,padR=18,padT=10,padB=36;
  const cv=document.createElement('canvas');
  const W=Math.round(P.plot[2]-P.plot[0]+padL+padR),H=Math.round(P.plot[3]-P.plot[1]+padT+padB);
  cv.id=id;cv.width=W;cv.height=H;cv.style.left=(P.plot[0]-padL)+'px';cv.style.top=(P.plot[1]-padT)+'px';cv.style.width=W+'px';cv.style.height=H+'px';
  document.getElementById('page').appendChild(cv);
  const box=[P.legend[0]-P.plot[0]+padL,P.legend[1]-P.plot[1]+padT,P.legend[2],P.legend[3]];
  const tick={font:{family:SERIF,size:13},color:"#333",padding:2,autoSkip:false,maxRotation:0,minRotation:0,callback:trim};
  const fixed=list=>s=>{s.ticks=list.map(value=>({value}));};
  new Chart(cv,{type:'line',data:{datasets:P.sets},
    plugins:[xmFrame],
    options:{responsive:false,animation:false,
      layout:{padding:{top:padT,right:padR,left:0,bottom:0}},
      plugins:{legend:{display:false},tooltip:{enabled:false},xmFrame:{box,swatches:P.swatches},filler:{propagate:false}},
      scales:{
        x:{type:'linear',min:P.x[0],max:P.x[1],grid:{display:false,drawTicks:false},border:{display:false},
          ticks:tick,afterBuildTicks:fixed(P.xTicks),
          title:{display:true,text:P.xTitle,font:{family:SERIF,size:14.5},color:"#222",padding:{top:0,bottom:P.xt}},
          afterFit:s=>{s.height=padB;}},
        y:{type:'linear',min:P.y[0],max:P.y[1],grid:{display:false,drawTicks:false},border:{display:false},
          ticks:tick,afterBuildTicks:fixed(P.yTicks),
          title:{display:true,text:P.yTitle,font:{family:SERIF,size:14.5},color:"#222",padding:{top:P.yt,bottom:0}},
          afterFit:s=>{s.width=padL;}}
      }}});
}
const noiseSwatch=["rgba(232,161,38,.7)","rgba(95,37,176,.6)"];
panel('panelA',{plot:[72,82.5,434.5,359],x:[0,500],y:[0,.4],xTicks:ticksA_x,yTicks:ticksA_y,xTitle:'Time (ns)',yTitle:'RMSD (nm)',xt:4,yt:9,legend:[351.7,102,60.3,27.3],swatches:noiseSwatch,
  sets:[...noiseSets(seriesNames[0],rmsdControlHi,rmsdControlLo,rmsdControlTrace,rmsdControlJag,ORANGE,ORANGE_P,ORANGE_H,500,20),...noiseSets(seriesNames[1],rmsdTestHi,rmsdTestLo,rmsdTestTrace,rmsdTestJag,PURPLE,PURPLE_P,PURPLE_H,500,10)]});
panel('panelB',{plot:[497.7,81,864,357.3],x:[-2,300],y:[0,1.3],xTicks:ticksB_x,yTicks:ticksB_y,xTitle:'Residue',yTitle:'RMSF (nm)',xt:5,yt:12,legend:[780,100,61,28],swatches:[ORANGE,PURPLE],
  sets:[plain({label:seriesNames[0],data:residues.map((x,i)=>({x,y:rmsfControl[i]})),borderColor:"#eea92e",borderWidth:1.2,order:2}),
        plain({label:seriesNames[1],data:residues.map((x,i)=>({x,y:rmsfTest[i]})),borderColor:"#6a2ccf",borderWidth:1.3,order:1})]});
panel('panelC',{plot:[924.5,84.5,1292,359],x:[0,500],y:[1.9,2.15],xTicks:ticksC_x,yTicks:ticksC_y,xTitle:'Time (ns)',yTitle:'Radius (nm)',xt:6,yt:6,legend:[1224.3,104,57.4,27],swatches:noiseSwatch,
  sets:[...noiseSets(seriesNames[0],rgControlHi,rgControlLo,rgControlTrace,rgControlJag,ORANGE,ORANGE_P,ORANGE_H,500,20),...noiseSets(seriesNames[1],rgTestHi,rgTestLo,rgTestTrace,rgTestJag,PURPLE,PURPLE_P,PURPLE_H,500,10)]});
panel('panelD',{plot:[67.7,447.3,445,712],x:[0,500],y:[0,5],xTicks:ticksD_x,yTicks:ticksD_y,xTitle:'Time (ns)',yTitle:'Hbonds',xt:7,yt:20,legend:[377.7,466,59,27],swatches:noiseSwatch,
  sets:[spanSet(seriesNames[0],hbControl01Pale,0,1,ORANGE_P,30),spanSet(seriesNames[0],hbControl01,0,1,ORANGE,29),spanSet(seriesNames[0],hbControl12Pale,1,2,ORANGE_P,28),spanSet(seriesNames[0],hbControl12,1,2,ORANGE,27),spanSet(seriesNames[0],hbControl23Pale,2,3,ORANGE_P,26),spanSet(seriesNames[0],hbControl23,2,3,ORANGE,25),spanSet(seriesNames[0],hbControl34,3,4,ORANGE,24),
        spanSet(seriesNames[1],hbTest01Pale,0,1,PURPLE_P,23),spanSet(seriesNames[1],hbTest01,0,1,PURPLE,22),spanSet(seriesNames[1],hbTest12Pale,1,2,PURPLE_P,21),spanSet(seriesNames[1],hbTest12,1,2,PURPLE,20),spanSet(seriesNames[1],hbTest23Pale,2,3,PURPLE_P,19),spanSet(seriesNames[1],hbTest23,2,3,PURPLE,18),spanSet(seriesNames[1],hbTest34Pale,3,4,PURPLE_P,17),spanSet(seriesNames[1],hbTest34,3,4,PURPLE,16),spanSet(seriesNames[1],hbTest45,4,5,PURPLE_P,15)]});
panel('panelE',{plot:[498.3,449,872.7,712.3],x:[0,500],y:[130,170],xTicks:ticksE_x,yTicks:ticksE_y,xTitle:'Time (ns)',yTitle:'Area (nm²)',xt:6,yt:8,legend:[798,467.7,57,26.5],swatches:noiseSwatch,
  sets:[...noiseSets(seriesNames[0],sasaControlHi,sasaControlLo,sasaControlTrace,sasaControlJag,ORANGE,ORANGE_P,ORANGE_H,500,20),...noiseSets(seriesNames[1],sasaTestHi,sasaTestLo,sasaTestTrace,sasaTestJag,PURPLE,PURPLE_P,PURPLE_H,500,10)]});
panel('panelF',{plot:[915.3,444,1300.7,714.3],x:[-50,80],y:[-80,80],xTicks:ticksF_x,yTicks:ticksF_y,xTitle:'PC1',yTitle:'PC2',xt:6,yt:12,legend:[1212,463,65,27.5],swatches:["#f4cf86","#7b47c4"],
  sets:[shapeSet(seriesNames[0],pcaControlBlobA,ORANGE,10),shapeSet(seriesNames[0],pcaControlBlobB,ORANGE,9),
        pathSet(seriesNames[1],pcaTestStreaks,"rgba(95,37,176,.8)",.7,8),pathSet(seriesNames[1],pcaTestPath,"rgba(95,37,176,.75)",.7,7),pathSet(seriesNames[1],pcaTestScribble,"rgba(95,37,176,.7)",.6,6),
        shapeSet(seriesNames[1],pcaTestBlobD,"rgba(95,37,176,.5)",5),shapeSet(seriesNames[1],pcaTestBand,PURPLE,4),shapeSet(seriesNames[1],pcaTestBlobA,PURPLE,3),shapeSet(seriesNames[1],pcaTestBlobB,PURPLE,2),shapeSet(seriesNames[1],pcaTestBlobC,PURPLE,1)]});
/* fit the caption's first line to the reference width, second line uses the same tracking */
(function(){
  const a=document.getElementById('cap1'),b=document.getElementById('cap2');
  const w=a.getBoundingClientRect().width,n=a.textContent.length;
  const ls=(1236-w)/n;
  a.style.letterSpacing=ls+'px';b.style.letterSpacing=ls+'px';
})();
</script></body></html>
